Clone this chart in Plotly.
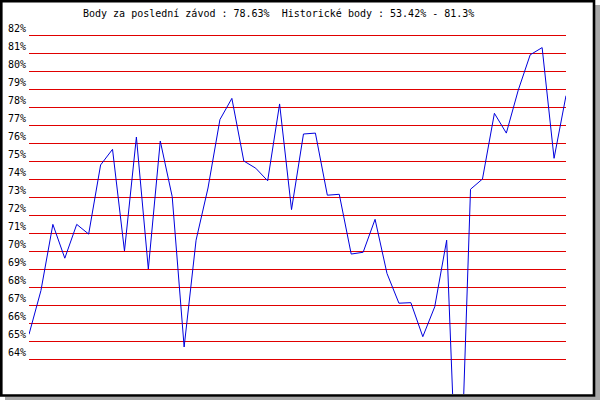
import plotly.graph_objects as go

# ---- data ----
race_index = list(range(46))
points_pct = [65.37, 67.8, 71.48, 69.6, 71.48, 70.94, 74.78, 75.65, 70.0, 76.33,
              69.0, 76.11, 73.02, 64.67, 70.6, 73.5, 77.3, 78.48, 75.0, 74.6,
              73.9, 78.17, 72.3, 76.5, 76.55, 73.1, 73.15, 69.83, 69.93, 71.76,
              68.75, 67.1, 67.13, 65.24, 66.9, 70.6, 53.42, 73.43, 74.0, 77.65,
              76.55, 78.94, 80.9, 81.3, 75.15, 78.63]
tick_vals = list(range(64, 83))
tick_text = [f"{v}%" for v in tick_vals]
title_text = "Body za poslední závod : 78.63%\u00a0 Historické body : 53.42% - 81.3%"

# ---- layout geometry (pixels) ----
W, H = 600, 400
L, R, T, B = 29, 566, 30, 394
pw, ph = R - L, B - T

def px(x):
    return (x - L) / pw

def py(y):
    return (B - y) / ph

FONT = dict(family="DejaVu Sans Mono", size=10, color="black")

fig = go.Figure()
fig.add_trace(go.Scatter(x=race_index, y=points_pct, mode="lines",
                         line=dict(color="#0000dd", width=1), hoverinfo="skip"))

fig.update_layout(
    width=W, height=H,
    margin=dict(l=L, r=W - R, t=T, b=H - B, pad=0, autoexpand=False),
    paper_bgcolor="white", plot_bgcolor="rgba(0,0,0,0)",
    showlegend=False,
    xaxis=dict(range=[0, 45], showgrid=False, zeroline=False, showticklabels=False,
               ticks="", showline=False, fixedrange=True, automargin=False),
    yaxis=dict(range=[82 - (B - 35) / 18, 82 + (35 - T) / 18],
               tickvals=tick_vals, ticktext=tick_text, tickfont=FONT,
               showgrid=True, gridcolor="#e00000", gridwidth=1,
               zeroline=False, showline=False, ticks="", automargin=False,
               ticklabelposition="outside top", ticklabelstandoff=2,
               fixedrange=True),
    shapes=[
        dict(type="rect", xref="paper", yref="paper", layer="below",
             x0=px(5), x1=px(600), y0=py(5), y1=py(400),
             fillcolor="#a8a8a8", line=dict(width=0)),
        dict(type="rect", xref="paper", yref="paper", layer="below",
             x0=px(0), x1=px(595), y0=py(0), y1=py(396.5),
             fillcolor="white", line=dict(width=0)),
        dict(type="rect", xref="paper", yref="paper", layer="above",
             x0=px(1.3), x1=px(594), y0=py(1.3), y1=py(395.5),
             fillcolor="rgba(0,0,0,0)", line=dict(color="black", width=2.6)),
    ],
    annotations=[
        dict(text=title_text, xref="paper", yref="paper", x=px(81), y=py(13.5),
             xanchor="left", yanchor="middle", showarrow=False, font=FONT),
    ],
)

fig.write_html("out.html", config={"displayModeBar": False},
               post_script="document.body.style.margin='0';document.body.style.padding='0';")
